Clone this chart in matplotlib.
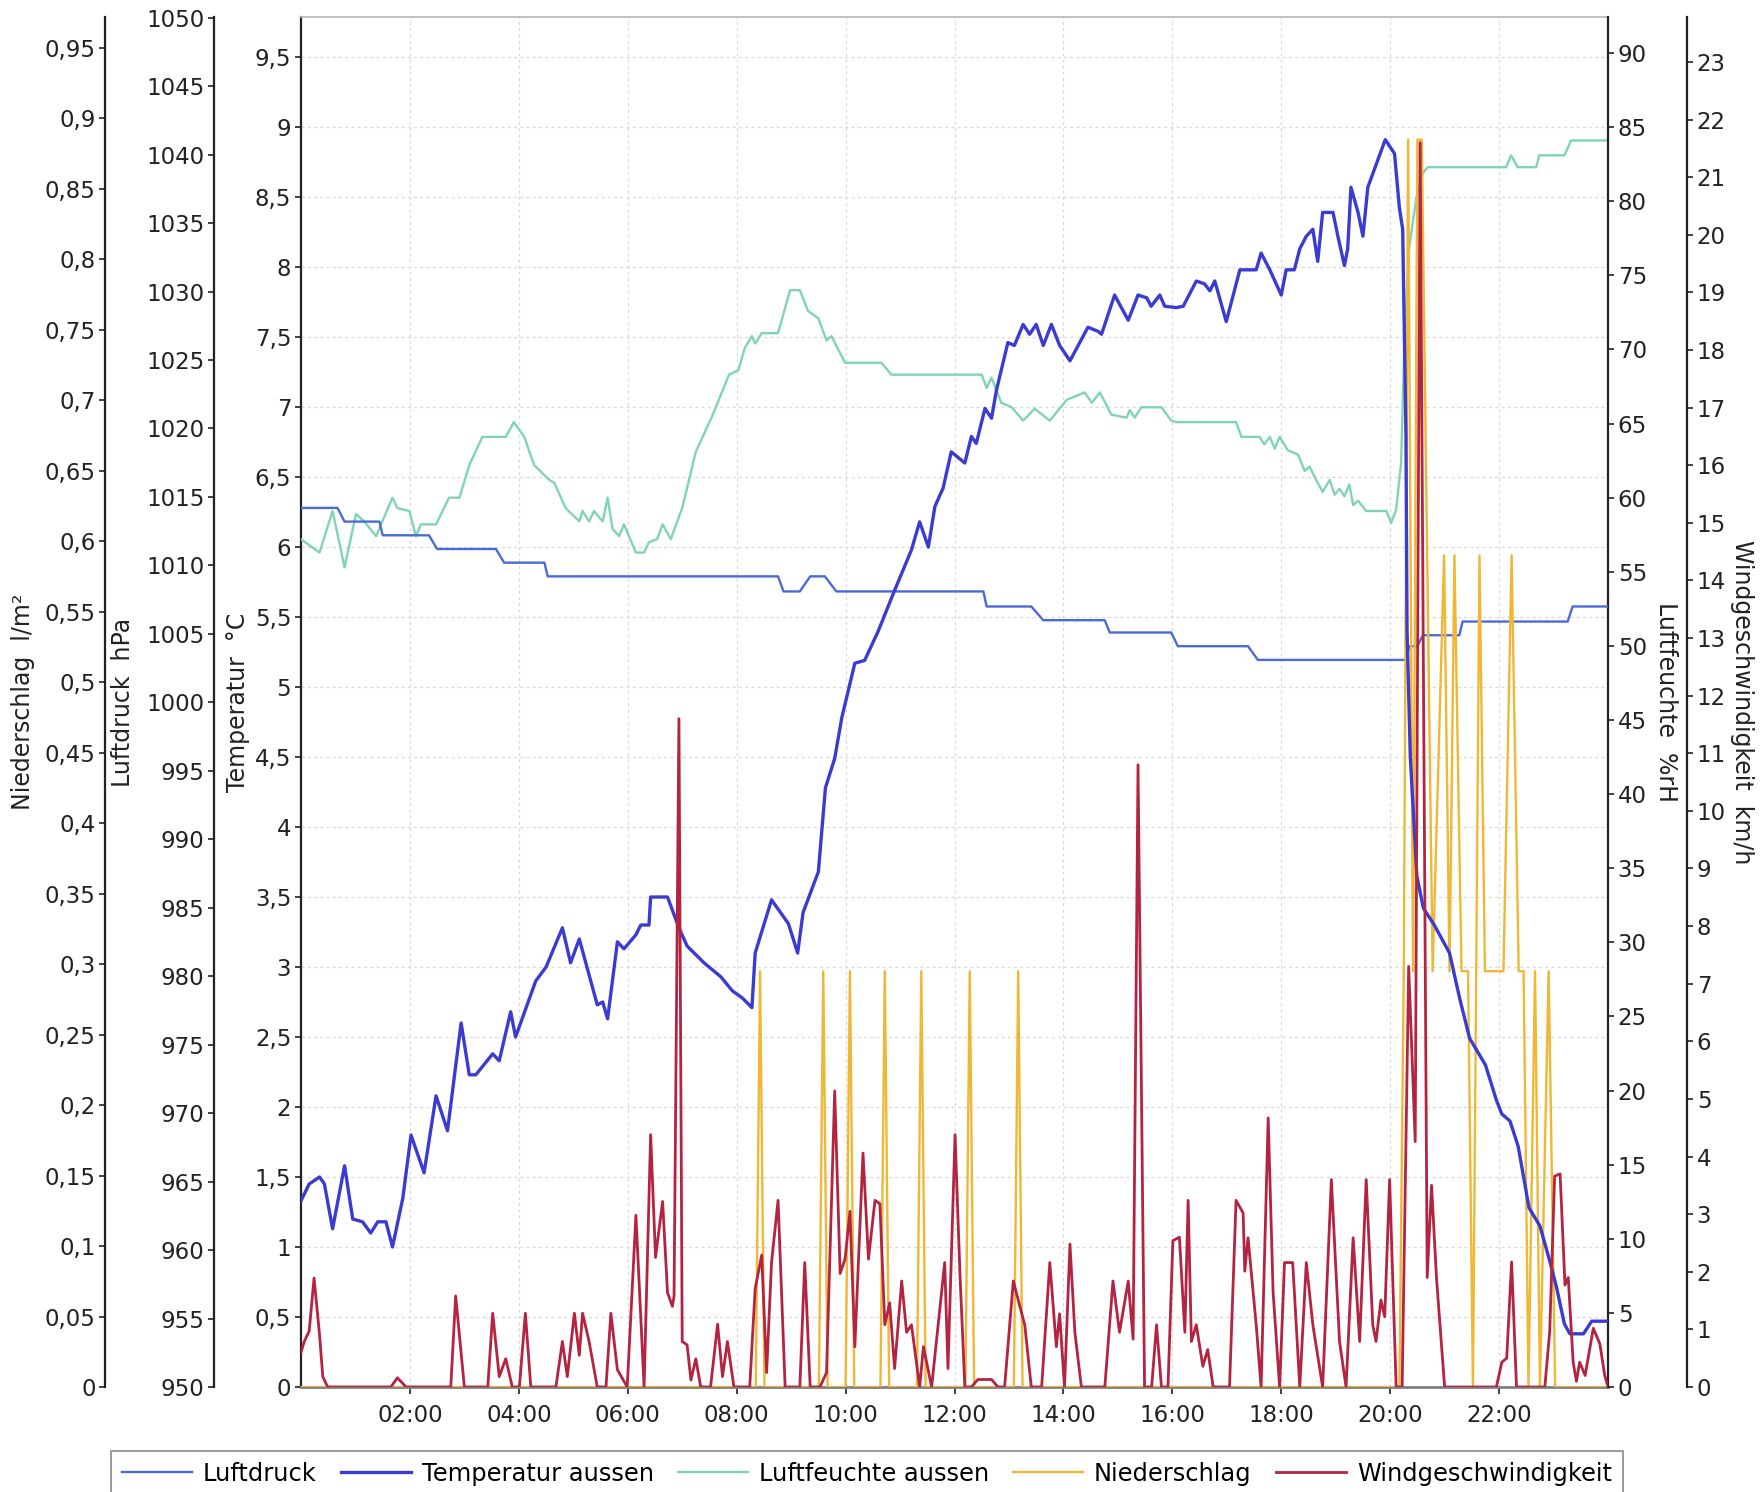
"""
Wetterstation Tagesverlauf: Luftdruck, Temperatur, Luftfeuchte, Niederschlag
und Windgeschwindigkeit mit fuenf eigenen y-Achsen.
"""

import matplotlib
matplotlib.use('Agg')
import matplotlib.pyplot as plt
from matplotlib.ticker import FuncFormatter, MultipleLocator

plt.rcParams['font.family'] = ['DejaVu Sans']

druck_t = [0, 0.67, 0.8, 1.44, 1.5, 2.35, 2.5, 3.58, 3.73, 4.47, 4.53, 8.76, 8.86,
           9.16, 9.35, 9.62, 9.83, 12.53, 12.59, 13.41, 13.63, 14.76, 14.85, 15.98,
           16.1, 17.39, 17.57, 20.29, 20.35, 20.5, 20.6, 21.27, 21.33, 23.26, 23.35, 24.0]
druck_v = [1014.2, 1014.2, 1013.2, 1013.2, 1012.2, 1012.2, 1011.2, 1011.2, 1010.2,
           1010.2, 1009.2, 1009.2, 1008.1, 1008.1, 1009.2, 1009.2, 1008.1, 1008.1,
           1007.0, 1007.0, 1006.0, 1006.0, 1005.1, 1005.1, 1004.1, 1004.1, 1003.1,
           1003.1, 1004.1, 1004.1, 1004.9, 1004.9, 1005.9, 1005.9, 1007.0, 1007.0]

temp_t = [0.0, 0.15, 0.34, 0.43, 0.58, 0.8, 0.95, 1.13, 1.28, 1.41, 1.56, 1.68, 1.87,
          2.02, 2.26, 2.48, 2.69, 2.94, 3.09, 3.21, 3.52, 3.64, 3.85, 3.94, 4.31, 4.5,
          4.8, 4.95, 5.11, 5.44, 5.54, 5.63, 5.81, 5.93, 6.15, 6.24, 6.39, 6.42, 6.73,
          6.94, 7.09, 7.4, 7.71, 7.92, 8.1, 8.28, 8.34, 8.64, 8.95, 9.12, 9.22, 9.5,
          9.63, 9.8, 9.93, 10.17, 10.35, 10.6, 10.9, 11.21, 11.36, 11.52, 11.64, 11.79,
          11.94, 12.19, 12.31, 12.4, 12.56, 12.68, 12.77, 12.98, 13.1, 13.26, 13.38,
          13.5, 13.63, 13.78, 13.93, 14.12, 14.45, 14.64, 14.7, 14.94, 15.19, 15.37,
          15.53, 15.61, 15.77, 15.86, 16.07, 16.2, 16.44, 16.59, 16.69, 16.78, 16.99,
          17.24, 17.54, 17.63, 17.79, 18.0, 18.09, 18.24, 18.34, 18.46, 18.58, 18.67,
          18.76, 18.95, 19.04, 19.16, 19.22, 19.28, 19.41, 19.5, 19.59, 19.74, 19.91,
          20.08, 20.17, 20.23, 20.29, 20.31, 20.37, 20.49, 20.61, 20.81, 21.09, 21.28,
          21.46, 21.75, 21.95, 22.05, 22.2, 22.35, 22.55, 22.75, 22.93, 23.05, 23.2,
          23.3, 23.55, 23.7, 24.0]
temp_v = [1.33, 1.45, 1.5, 1.45, 1.13, 1.58, 1.2, 1.18, 1.1, 1.18, 1.18, 1.0, 1.35,
          1.8, 1.53, 2.08, 1.83, 2.6, 2.23, 2.23, 2.38, 2.33, 2.68, 2.5, 2.9, 3.0,
          3.28, 3.03, 3.2, 2.73, 2.75, 2.63, 3.18, 3.13, 3.23, 3.3, 3.3, 3.5, 3.5,
          3.28, 3.15, 3.03, 2.93, 2.83, 2.78, 2.71, 3.1, 3.48, 3.31, 3.1, 3.39, 3.68,
          4.28, 4.49, 4.78, 5.17, 5.19, 5.4, 5.69, 5.98, 6.18, 6.0, 6.29, 6.42,
          6.68, 6.6, 6.79, 6.74, 6.99, 6.92, 7.12, 7.46, 7.44, 7.59, 7.52,
          7.59, 7.44, 7.59, 7.44, 7.33, 7.57, 7.54, 7.52, 7.8, 7.62, 7.8,
          7.78, 7.72, 7.8, 7.72, 7.71, 7.72, 7.9, 7.88, 7.83, 7.9, 7.61,
          7.98, 7.98, 8.1, 7.98, 7.8, 7.98, 7.98, 8.13, 8.22, 8.27, 8.04,
          8.39, 8.39, 8.22, 8.01, 8.13, 8.57, 8.39, 8.22, 8.57, 8.73, 8.91,
          8.81, 8.42, 8.27, 6.8, 5.4, 4.5, 3.65, 3.42, 3.3, 3.1, 2.77,
          2.49, 2.3, 2.05, 1.95, 1.9, 1.72, 1.28, 1.15, 0.9, 0.72, 0.45,
          0.38, 0.38, 0.47, 0.47]

feuchte_t = [0.0, 0.34, 0.58, 0.8, 1.01, 1.16, 1.38, 1.47, 1.68, 1.77, 1.99, 2.11, 2.2,
             2.48, 2.72, 2.91, 3.09, 3.33, 3.76, 3.91, 4.1, 4.28, 4.56, 4.65, 4.86, 5.11,
             5.17, 5.29, 5.38, 5.54, 5.63, 5.72, 5.84, 5.93, 6.15, 6.3, 6.39, 6.54, 6.64,
             6.79, 7.0, 7.25, 7.55, 7.86, 8.03, 8.15, 8.28, 8.34, 8.46, 8.76, 8.98, 9.16,
             9.31, 9.5, 9.65, 9.74, 9.99, 10.66, 10.84, 12.5, 12.59, 12.68, 12.86, 13.05,
             13.26, 13.47, 13.75, 14.06, 14.39, 14.52, 14.67, 14.88, 15.16, 15.22, 15.31,
             15.43, 15.8, 15.98, 16.07, 17.17, 17.27, 17.6, 17.69, 17.79, 17.88, 17.97,
             18.12, 18.31, 18.43, 18.52, 18.64, 18.76, 18.89, 18.98, 19.07, 19.16, 19.25,
             19.32, 19.41, 19.56, 19.93, 20.02, 20.11, 20.2, 20.26, 20.35, 20.48, 20.6,
             20.69, 22.13, 22.22, 22.34, 22.68, 22.74, 23.2, 23.32, 24.0]
feuchte_v = [57.2, 56.3, 59.1, 55.3, 58.9, 58.4, 57.4, 58.2, 60.0, 59.3, 59.1, 57.4, 58.2,
             58.2, 60.0, 60.0, 62.2, 64.1, 64.1, 65.1, 64.1, 62.2, 61.2, 61.0, 59.3, 58.4,
             59.1, 58.4, 59.1, 58.4, 60.0, 57.9, 57.4, 58.2, 56.3, 56.3, 57.0, 57.2, 58.2,
             57.2, 59.3, 63.1, 65.5, 68.3, 68.6, 70.1, 70.9, 70.4, 71.1, 71.1, 74.0, 74.0,
             72.6, 72.1, 70.6, 70.9, 69.1, 69.1, 68.3, 68.3, 67.4, 68.1, 66.4, 66.1,
             65.2, 66.0, 65.2, 66.6, 67.1, 66.4, 67.1, 65.6, 65.4, 65.9, 65.4,
             66.1, 66.1, 65.2, 65.1, 65.1, 64.1, 64.1, 63.6, 64.1, 63.3, 64.1,
             63.2, 62.9, 61.8, 62.1, 61.2, 60.4, 61.2, 60.2, 60.6, 60.1, 60.9,
             59.5, 59.8, 59.1, 59.1, 58.3, 59.2, 62.3, 70.2, 76.9, 80.2, 81.9,
             82.3, 82.3, 83.1, 82.3, 82.3, 83.1, 83.1, 84.1, 84.1]

regen_t = [0, 8.35, 8.43, 8.51, 9.51, 9.59, 9.67, 10.0, 10.08, 10.16, 10.64, 10.72, 10.8,
           11.31, 11.39, 11.47, 12.2, 12.28, 12.36, 13.09, 13.17, 13.25, 20.17, 20.25,
           20.33, 20.42, 20.5, 20.58, 20.78, 20.99, 21.09, 21.18, 21.31, 21.43, 21.52,
           21.64, 21.74, 22.08, 22.23, 22.36, 22.45, 22.54, 22.66, 22.75, 22.91, 23.03, 24.0]
regen_v = [0, 0, 0.295, 0, 0, 0.295, 0, 0, 0.295, 0, 0, 0.295, 0,
           0, 0.295, 0, 0, 0.295, 0, 0, 0.295, 0, 0, 0.295,
           0.885, 0.295, 0.885, 0.885, 0.295, 0.59, 0.295, 0.59, 0.295, 0.295, 0,
           0.59, 0.295, 0.295, 0.59, 0.295, 0.295, 0, 0.295, 0, 0.295, 0, 0]

wind_t = [0.0, 0.06, 0.15, 0.24, 0.34, 0.4, 0.49, 1.65, 1.77, 1.93, 2.75, 2.84, 3.0, 3.43,
          3.52, 3.64, 3.76, 3.88, 4.01, 4.12, 4.22, 4.68, 4.8, 4.89, 5.02, 5.11, 5.17,
          5.29, 5.44, 5.6, 5.69, 5.81, 5.99, 6.15, 6.3, 6.42, 6.51, 6.64, 6.73, 6.82,
          6.85, 6.94, 7.0, 7.09, 7.16, 7.25, 7.34, 7.52, 7.65, 7.74, 7.83, 7.95, 8.24,
          8.34, 8.46, 8.55, 8.64, 8.76, 8.89, 9.16, 9.25, 9.35, 9.53, 9.65, 9.8, 9.9,
          9.99, 10.08, 10.17, 10.32, 10.42, 10.54, 10.63, 10.72, 10.81, 10.9, 11.03,
          11.12, 11.21, 11.36, 11.43, 11.58, 11.82, 11.88, 12.01, 12.1, 12.19, 12.31,
          12.43, 12.68, 12.8, 12.92, 13.08, 13.2, 13.29, 13.41, 13.6, 13.75, 13.87,
          13.93, 14.02, 14.12, 14.21, 14.33, 14.76, 14.91, 15.03, 15.19, 15.28, 15.37,
          15.49, 15.62, 15.71, 15.8, 15.92, 16.01, 16.13, 16.23, 16.29, 16.35, 16.44,
          16.56, 16.65, 16.75, 17.05, 17.17, 17.3, 17.33, 17.39, 17.54, 17.63, 17.76,
          17.85, 17.97, 18.06, 18.21, 18.34, 18.46, 18.58, 18.76, 18.92, 19.07, 19.19,
          19.32, 19.44, 19.56, 19.68, 19.74, 19.83, 19.9, 19.99, 20.11, 20.22, 20.34,
          20.46, 20.55, 20.68, 20.76, 20.85, 21.0, 21.95, 22.05, 22.14, 22.23, 22.32,
          22.84, 22.93, 23.02, 23.12, 23.21, 23.27, 23.36, 23.42, 23.48, 23.58, 23.73,
          23.85, 23.94, 24.0]
wind_v = [0.6, 0.79, 0.97, 1.89, 0.91, 0.18, 0, 0, 0.16, 0, 0, 1.58, 0, 0,
          1.28, 0.18, 0.49, 0, 0, 1.28, 0, 0, 0.79, 0.18, 1.28, 0.55, 1.28,
          0.79, 0, 0, 1.28, 0.3, 0, 2.98, 0, 4.38, 2.25, 3.22, 1.64, 1.4,
          1.58, 11.6, 0.79, 0.73, 0.12, 0.49, 0, 0, 1.09, 0.18, 0.79, 0, 0,
          1.71, 2.29, 0.25, 2.16, 3.24, 0, 0, 2.16, 0, 0, 0.25, 5.14, 1.97,
          2.22, 3.05, 0.7, 4.06, 2.22, 3.24, 3.18, 1.08, 1.46, 0.32, 1.84,
          0.95, 1.08, 0, 0.7, 0, 2.16, 0.32, 4.38, 1.97, 0, 0,
          0.13, 0.13, 0, 0, 1.84, 1.4, 1.08, 0, 0, 2.16, 0.7,
          1.27, 0, 2.48, 0.95, 0, 0, 1.84, 0.95, 1.84, 0.83, 10.8,
          0, 0, 1.08, 0, 0, 2.54, 2.6, 0.95, 3.24, 0.79, 1.08,
          0.36, 0.65, 0, 0, 3.24, 3.02, 2.01, 2.59, 1.08, 0, 4.67,
          1.65, 0, 2.16, 2.16, 0, 2.16, 1.08, 0, 3.6, 0.79, 0,
          2.59, 0.79, 3.6, 1.08, 0.79, 1.51, 1.22, 3.6, 0, 0, 7.3,
          4.26, 21.6, 1.9, 3.5, 1.9, 0, 0, 0.43, 0.5, 2.17, 0,
          0, 0.97, 3.66, 3.7, 1.77, 1.9, 0.43, 0.1, 0.43, 0.2, 1.02,
          0.75, 0.2, 0]

stunden = [2, 4, 6, 8, 10, 12, 14, 16, 18, 20, 22]
stunden_labels = ['%02d:00' % h for h in stunden]

# Farben
c_druck = '#4a6ad6'
c_temp = '#3a3bd2'
c_feuchte = '#7fd4b4'
c_regen = '#f0b634'
c_wind = '#b4233f'
c_achse = '#222222'


def komma(v, pos):
    s = ('%.2f' % v).rstrip('0').rstrip('.')
    return s.replace('.', ',')


def achse_einrichten(axis, seite, pos, lim, schritt, label, label_x, rot):
    """Eine y-Achse mit eigener Linie an Position pos (Achsenkoordinaten)."""
    for s in ('left', 'right', 'top', 'bottom'):
        axis.spines[s].set_visible(False)
    axis.spines[seite].set_visible(True)
    axis.spines[seite].set_position(('axes', pos))
    axis.spines[seite].set_color(c_achse)
    axis.spines[seite].set_linewidth(1.6)
    axis.yaxis.set_ticks_position(seite)
    axis.yaxis.set_label_position(seite)
    axis.set_ylim(*lim)
    axis.yaxis.set_major_locator(MultipleLocator(schritt))
    axis.yaxis.set_major_formatter(FuncFormatter(komma))
    axis.tick_params(axis='y', direction='out', length=4.5, width=1.2,
                     labelsize=16.5, pad=2.5, colors=c_achse)
    axis.set_ylabel(label, fontsize=17, rotation=rot, va='center', ha='center',
                    color=c_achse)
    axis.yaxis.set_label_coords(label_x, 0.5)


fig = plt.figure(figsize=(17.62, 14.92), dpi=100)
ax = fig.add_axes([301 / 1762, 1 - 1387 / 1492, 1307 / 1762, 1370 / 1492])

ax_feuchte = ax.twinx()
ax_druck = ax.twinx()
ax_regen = ax.twinx()
ax_temp = ax.twinx()
ax_wind = ax.twinx()

for z, a in enumerate([ax, ax_feuchte, ax_druck, ax_regen, ax_temp, ax_wind]):
    a.set_zorder(z)
    a.set_xlim(0, 24)

# Grundachse: Temperaturskala, Gitter, Zeitachse
temp_lim = (0, 9.786)
achse_einrichten(ax, 'left', 0, temp_lim, 0.5, 'Temperatur  °C', -0.0482, 90)
ax.spines['bottom'].set_visible(True)
ax.spines['bottom'].set_color('#808080')
ax.spines['bottom'].set_linewidth(2)
ax.spines['top'].set_visible(True)
ax.spines['top'].set_color('#b5b5b5')
ax.spines['top'].set_linewidth(1.2)
ax.set_xticks(stunden)
ax.set_xticklabels(stunden_labels)
ax.tick_params(axis='x', direction='out', length=5, width=1.2, labelsize=16.5,
               pad=7, colors=c_achse)
ax.grid(True, color='#dadada', linestyle=(0, (2.5, 2.5)), linewidth=0.9)

achse_einrichten(ax_druck, 'left', -0.0663, (950, 1050.05), 5, 'Luftdruck  hPa',
                 -0.1362, 90)
achse_einrichten(ax_regen, 'left', -0.1497, (0, 0.972), 0.05, 'Niederschlag  l/m²',
                 -0.2127, 90)
achse_einrichten(ax_feuchte, 'right', 1.0, (0, 92.43), 5, 'Luftfeuchte  %rH',
                 1.0444, 270)
achse_einrichten(ax_wind, 'right', 1.0605, (0, 23.78), 1, 'Windgeschwindigkeit  km/h',
                 1.1026, 270)

# Temperaturlinie liegt in eigener Achse, damit sie ueber dem Regen liegt
for s in ax_temp.spines.values():
    s.set_visible(False)
ax_temp.set_ylim(*temp_lim)
ax_temp.set_yticks([])

l_feuchte, = ax_feuchte.plot(feuchte_t, feuchte_v, color=c_feuchte, lw=1.7,
                             label='Luftfeuchte aussen')
l_druck, = ax_druck.plot(druck_t, druck_v, color=c_druck, lw=1.7, label='Luftdruck')
l_regen, = ax_regen.plot(regen_t, regen_v, color=c_regen, lw=1.7, label='Niederschlag')
l_temp, = ax_temp.plot(temp_t, temp_v, color=c_temp, lw=2.4, label='Temperatur aussen')
l_wind, = ax_wind.plot(wind_t, wind_v, color=c_wind, lw=2.0, label='Windgeschwindigkeit')

handles = [l_druck, l_temp, l_feuchte, l_regen, l_wind]
leg = fig.legend(handles, [h.get_label() for h in handles], loc='upper left',
                 bbox_to_anchor=(111 / 1762, 1 - 1451 / 1492), ncol=5, fontsize=17.4,
                 frameon=True, fancybox=False, edgecolor='#808080',
                 handlelength=2.9, handletextpad=0.45, columnspacing=1.0,
                 borderaxespad=0, borderpad=0.45)
leg.get_frame().set_linewidth(1.4)

fig.savefig('out.png', dpi=100, facecolor='white')
